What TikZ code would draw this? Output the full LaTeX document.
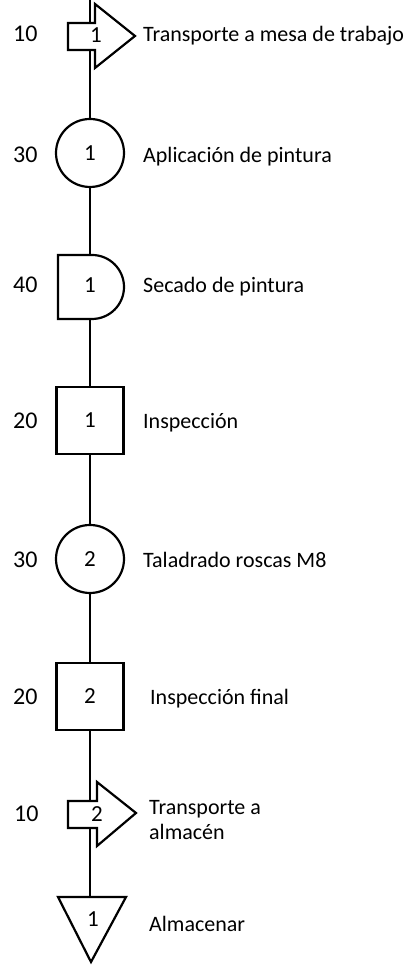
\documentclass[tikz,border=0pt]{standalone}
\usepackage{fontspec}
\setmainfont{Carlito}
\usetikzlibrary{positioning,calc}

\begin{document}
\begin{tikzpicture}[x=1pt, y=1pt,
      lin/.style={line width=2.2pt},
      simb/.style={draw, line width=2.2pt, inner sep=0pt, font=\fontsize{23}{25}\selectfont},
      oper/.style={simb, circle, minimum size=68pt},
      insp/.style={simb, rectangle, minimum size=67pt},
      num/.style={inner sep=0pt, font=\fontsize{23}{25}\selectfont},
      tiempo/.style={num, anchor=base west, font=\fontsize{24}{26}\selectfont},
      desc/.style={num, anchor=base west, align=left, font=\fontsize{22}{25}\selectfont}]
    \useasboundingbox (0,0) rectangle (411,965);
    \coordinate (inicio) at (90,965);
    % transporte a mesa
    \draw[lin] (68,942) -- (95,942) -- (95,961) -- (135,929) -- (95,897) -- (95,915) -- (68,915) -- cycle;
    \node[num, anchor=base] (t1) at (96,922) {1};
    \coordinate (t1n) at (90,942);
    \coordinate (t1s) at (90,915);
    \node[tiempo] (tt1) at (13,923) {10};
    \node[desc] (dt1) at (143,923) {Transporte a mesa de trabajo};
    % pintura
    \node[oper] (o1) at (90,812) {1};
    \node[tiempo] (to1) at (13,802) {30};
    \node[desc] (do1) at (143,802) {Aplicación de pintura};
    % secado
    \draw[lin] (58,710) -- (92,710) arc[start angle=90, end angle=-90, radius=32] -- (58,646) -- cycle;
    \node[num, anchor=base] (e1) at (90,672) {1};
    \coordinate (e1n) at (90,710);
    \coordinate (e1s) at (90,646);
    \node[tiempo] (te1) at (13,672) {40};
    \node[desc] (de1) at (143,672) {Secado de pintura};
    % inspeccion
    \node[insp] (i1) at (90,544.5) {1};
    \node[tiempo] (ti1) at (13,536) {20};
    \node[desc] (di1) at (143,536) {Inspección};
    % taladrado
    \node[oper] (o2) at (90,406) {2};
    \node[tiempo] (to2) at (13,397) {30};
    \node[desc] (do2) at (143,397) {Taladrado roscas M8};
    % inspeccion final
    \node[insp] (i2) at (90,268.5) {2};
    \node[tiempo] (ti2) at (13,260) {20};
    \node[desc] (di2) at (150,260) {Inspección final};
    % transporte a almacen
    \draw[lin] (68,164) -- (97,164) -- (97,183) -- (136,152) -- (97,119) -- (97,137) -- (68,137) -- cycle;
    \node[num, anchor=base] (t2) at (97,143) {2};
    \coordinate (t2n) at (90,164);
    \coordinate (t2s) at (90,137);
    \node[tiempo] (tt2) at (14,143) {10};
    \node[desc] (dt2) at (149,125) {Transporte a\\almacén};
    % almacenar
    \draw[lin] (58,68) -- (126,68) -- (91,3) -- cycle;
    \node[num, anchor=base] (a1) at (93,38) {1};
    \coordinate (a1n) at (90,68);
    \node[desc] (da1) at (149,33) {Almacenar};
    % conexiones
    \draw[lin] (inicio) -- (t1n);
    \draw[lin] (t1s) -- (o1);
    \draw[lin] (o1) -- (e1n);
    \draw[lin] (e1s) -- (i1);
    \draw[lin] (i1) -- (o2);
    \draw[lin] (o2) -- (i2);
    \draw[lin] (i2) -- (t2n);
    \draw[lin] (t2s) -- (a1n);
  \end{tikzpicture}
\end{document}
